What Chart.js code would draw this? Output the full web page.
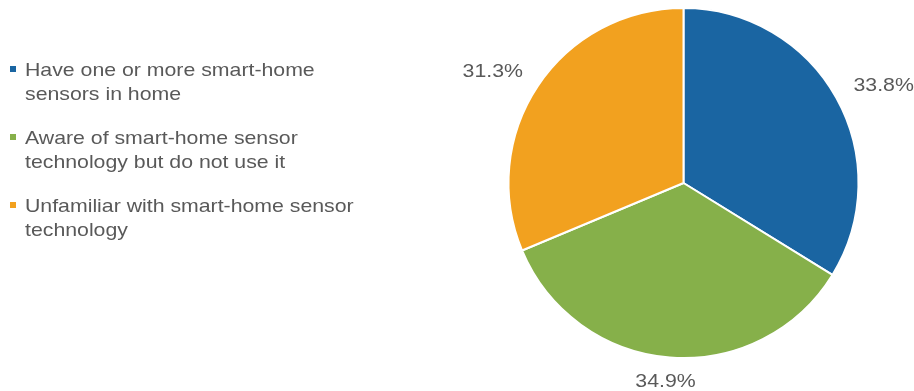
<!DOCTYPE html>
<html>
<head>
<meta charset="utf-8">
<script src="https://cdn.jsdelivr.net/npm/chart.js@4/dist/chart.umd.min.js"></script>
<style>
  html, body { margin: 0; padding: 0; background: #fff; }
  #wrap { position: relative; width: 914px; height: 391px; }
</style>
</head>
<body>
<div id="wrap"><canvas id="sensorPie" width="914" height="391"></canvas></div>
<script>
// survey shares (%)
const labels = [
  ["Have one or more smart-home", "sensors in home"],
  ["Aware of smart-home sensor", "technology but do not use it"],
  ["Unfamiliar with smart-home sensor", "technology"],
];
const shares = [33.8, 34.9, 31.3];
const colors = ["#1a65a2", "#86b04a", "#f2a11f"];

const textColor = "#595959";
const textFont = "18.5px 'Liberation Sans', Arial, sans-serif";
const textStretch = 1.15; // text is drawn a little wide

function wideText(ctx, text, x, y) {
  ctx.save();
  ctx.translate(x, y);
  ctx.scale(textStretch, 1);
  ctx.fillText(text, 0, 0);
  ctx.restore();
}

// legend on the left, wrapped labels with small square markers
const sideLegend = {
  id: "sideLegend",
  afterDraw(chart) {
    const ctx = chart.ctx;
    const firstBaseline = 76;
    const itemGap = 68;
    const lineHeight = 24;
    ctx.save();
    ctx.font = textFont;
    ctx.textBaseline = "alphabetic";
    ctx.textAlign = "left";
    chart.data.labels.forEach((lines, i) => {
      const y = firstBaseline + i * itemGap;
      ctx.fillStyle = chart.data.datasets[0].backgroundColor[i];
      ctx.fillRect(10, y - 10, 6, 6);
      ctx.fillStyle = textColor;
      lines.forEach((line, j) => {
        wideText(ctx, line, 25, y + j * lineHeight);
      });
    });
    ctx.restore();
  },
};

// percentage labels just outside each slice
const outsideLabels = {
  id: "outsideLabels",
  afterDatasetsDraw(chart) {
    const ctx = chart.ctx;
    const meta = chart.getDatasetMeta(0);
    ctx.save();
    ctx.font = textFont;
    ctx.fillStyle = textColor;
    ctx.textAlign = "center";
    ctx.textBaseline = "middle";
    meta.data.forEach((arc, i) => {
      const mid = (arc.startAngle + arc.endAngle) / 2;
      const r = arc.outerRadius + 18;
      const text = shares[i].toFixed(1) + "%";
      const w = ctx.measureText(text).width * textStretch;
      const h = 14;
      const px = arc.x + Math.cos(mid) * r;
      const py = arc.y + Math.sin(mid) * r;
      wideText(ctx, text, px + Math.cos(mid) * w * 0.6, py + Math.sin(mid) * h * 0.5);
    });
    ctx.restore();
  },
};

new Chart(document.getElementById("sensorPie"), {
  type: "pie",
  data: {
    labels: labels,
    datasets: [
      {
        data: shares,
        backgroundColor: colors,
        borderColor: "#ffffff",
        borderWidth: 2,
      },
    ],
  },
  options: {
    responsive: false,
    animation: false,
    layout: {
      padding: { left: 507, right: 54, top: 7, bottom: 32 },
    },
    plugins: {
      legend: { display: false },
      tooltip: { enabled: false },
    },
  },
  plugins: [sideLegend, outsideLabels],
});
</script>
</body>
</html>
